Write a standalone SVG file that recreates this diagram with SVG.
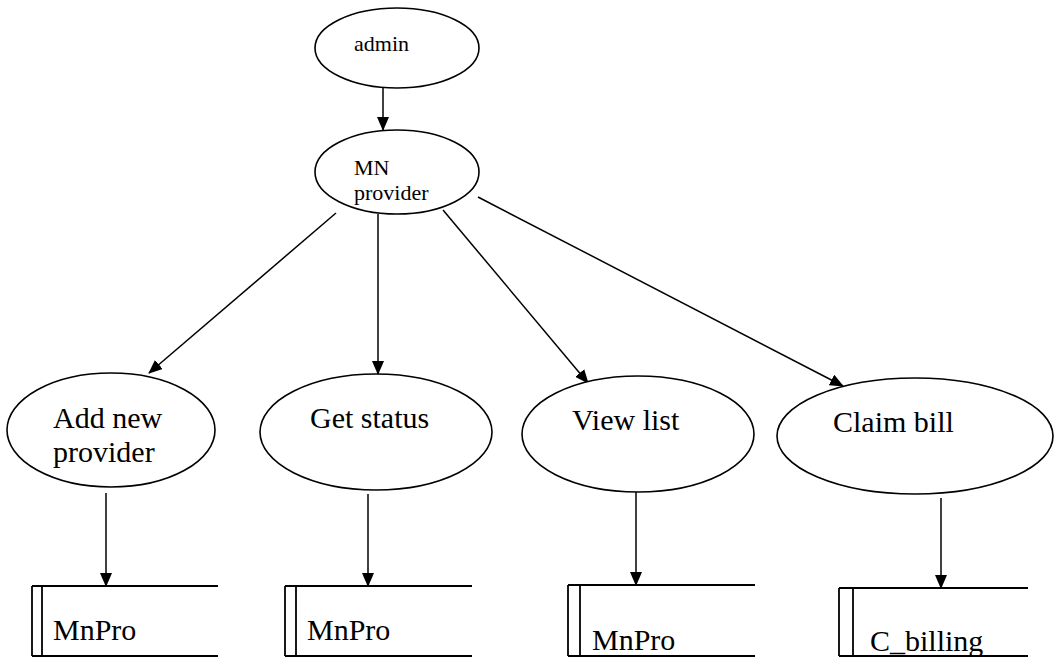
<svg xmlns="http://www.w3.org/2000/svg" width="1055" height="658" viewBox="0 0 1055 658">
<style>
.n{fill:#fff;stroke:#000;stroke-width:1.6}
.t{font-family:"Liberation Serif","Times New Roman",serif;fill:#000}
.s{font-size:22px}
.b{font-size:30px}
.c line{stroke:#000;stroke-width:1.5}
.st line{stroke:#000;stroke-width:1.8}
</style>
<defs>
<marker id="ah" markerUnits="userSpaceOnUse" markerWidth="14" markerHeight="12" refX="13" refY="6" orient="auto">
<path d="M0,0 L14,6 L0,12 Z" fill="#000"/>
</marker>
</defs>
<rect width="1055" height="658" fill="#fff"/>
<g id="connectors" class="c">
<line x1="383" y1="88" x2="383" y2="130" marker-end="url(#ah)"/>
<line x1="336" y1="213" x2="149" y2="373" marker-end="url(#ah)"/>
<line x1="378" y1="214" x2="378" y2="374" marker-end="url(#ah)"/>
<line x1="443" y1="210" x2="588" y2="383" marker-end="url(#ah)"/>
<line x1="478" y1="197" x2="843" y2="386" marker-end="url(#ah)"/>
<line x1="106" y1="493" x2="106" y2="586" marker-end="url(#ah)"/>
<line x1="368" y1="494" x2="368" y2="586" marker-end="url(#ah)"/>
<line x1="636" y1="492" x2="636" y2="585" marker-end="url(#ah)"/>
<line x1="941" y1="498" x2="941" y2="588" marker-end="url(#ah)"/>
</g>
<g id="admin">
<ellipse class="n" cx="397" cy="48" rx="82" ry="40"/>
<text class="t s" x="354" y="51">admin</text>
</g>
<g id="mnprovider">
<ellipse class="n" cx="397" cy="172" rx="82" ry="42"/>
<text class="t s" x="354" y="175">MN</text>
<text class="t s" x="354" y="200">provider</text>
</g>
<g id="addnew">
<ellipse class="n" cx="111" cy="430" rx="104" ry="57"/>
<text class="t b" x="53" y="428">Add new</text>
<text class="t b" x="53" y="462">provider</text>
</g>
<g id="getstatus">
<ellipse class="n" cx="376" cy="432" rx="116" ry="58"/>
<text class="t b" x="310" y="428">Get status</text>
</g>
<g id="viewlist">
<ellipse class="n" cx="638" cy="434" rx="116" ry="58"/>
<text class="t b" x="572" y="430">View list</text>
</g>
<g id="claimbill">
<ellipse class="n" cx="915" cy="436" rx="138" ry="58"/>
<text class="t b" x="833" y="432">Claim bill</text>
</g>
<g id="store1" class="st">
<line x1="32" y1="586" x2="218" y2="586"/>
<line x1="32" y1="656" x2="218" y2="656"/>
<line x1="32" y1="586" x2="32" y2="656"/>
<line x1="42" y1="586" x2="42" y2="656"/>
<text class="t b" x="53" y="640">MnPro</text>
</g>
<g id="store2" class="st">
<line x1="285" y1="586" x2="472" y2="586"/>
<line x1="285" y1="656" x2="472" y2="656"/>
<line x1="285" y1="586" x2="285" y2="656"/>
<line x1="296" y1="586" x2="296" y2="656"/>
<text class="t b" x="307" y="640">MnPro</text>
</g>
<g id="store3" class="st">
<line x1="568" y1="585" x2="755" y2="585"/>
<line x1="568" y1="656" x2="755" y2="656"/>
<line x1="568" y1="585" x2="568" y2="656"/>
<line x1="580" y1="585" x2="580" y2="656"/>
<text class="t b" x="592" y="650">MnPro</text>
</g>
<g id="store4" class="st">
<line x1="839" y1="588" x2="1028" y2="588"/>
<line x1="839" y1="656" x2="1028" y2="656"/>
<line x1="839" y1="588" x2="839" y2="656"/>
<line x1="853" y1="588" x2="853" y2="656"/>
<text class="t b" x="870" y="651">C_billing</text>
</g>
</svg>
